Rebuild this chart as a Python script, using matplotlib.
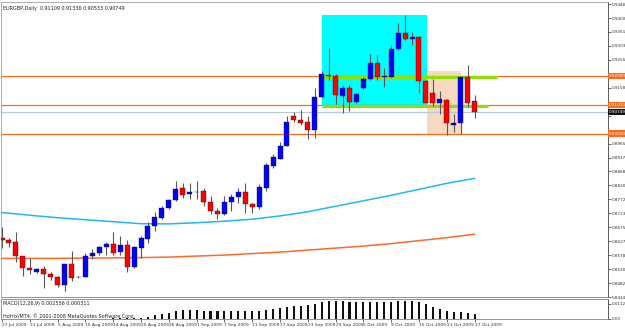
import matplotlib
matplotlib.use('Agg')
import matplotlib.pyplot as plt
from matplotlib.patches import Rectangle
import matplotlib.transforms as mtransforms

plt.rcParams['font.family'] = ['Liberation Sans Narrow', 'DejaVu Sans']

SYMBOL_LABEL = 'EURGBP,Daily  0.91109 0.91336 0.90533 0.90749'
MACD_LABEL = 'MACD(12,26,9) 0.002556 0.000311'
COPYRIGHT = 'Hofrix/MT4, \u00a9 2001-2008 MetaQuotes Software Corp.'

# daily candles, bar 0 = 27 Jul 2009 ... bar 68 = 27 Oct 2009
opens = [0.86367, 0.86298, 0.86229, 0.85757, 0.85343, 0.85205, 0.85308, 0.85136, 0.85032, 0.84756,
         0.85481, 0.85032, 0.85032, 0.85757, 0.85860, 0.86067, 0.86171, 0.85895, 0.86136, 0.85377,
         0.86033, 0.86343, 0.86792, 0.87092, 0.87413, 0.87699, 0.88127, 0.87920, 0.87989, 0.88009,
         0.87630, 0.87319, 0.87206, 0.87644, 0.87802, 0.87975, 0.87575, 0.87471, 0.88127, 0.88872,
         0.89127, 0.89562, 0.90597, 0.90483, 0.90404, 0.90138, 0.91266, 0.92036, 0.92001, 0.91311,
         0.91587, 0.91104, 0.91587, 0.91898, 0.92450, 0.91967, 0.91967, 0.92933, 0.93485, 0.93278,
         0.93347, 0.91829, 0.91415, 0.91070, 0.91173, 0.90311, 0.90380, 0.91967, 0.91109]
highs = [0.86757, 0.86378, 0.86585, 0.85770, 0.85688, 0.85343, 0.85412, 0.85205, 0.85067, 0.85490,
         0.85929, 0.85060, 0.85860, 0.85998, 0.86102, 0.86240, 0.86585, 0.86447, 0.86309, 0.86102,
         0.86447, 0.86930, 0.87275, 0.87492, 0.87723, 0.88354, 0.88299, 0.88299, 0.88354, 0.88127,
         0.87837, 0.87437, 0.87827, 0.87896, 0.88103, 0.88299, 0.87609, 0.88241, 0.88965, 0.89276,
         0.89690, 0.90621, 0.90735, 0.90804, 0.90621, 0.91577, 0.92149, 0.92957, 0.92070, 0.91691,
         0.91691, 0.91415, 0.91967, 0.92760, 0.92726, 0.92277, 0.93071, 0.93830, 0.94106, 0.93519,
         0.93381, 0.91863, 0.91898, 0.91484, 0.91190, 0.90690, 0.91990, 0.92381, 0.91336]
lows = [0.86033, 0.86067, 0.85550, 0.85067, 0.85136, 0.85170, 0.84653, 0.84929, 0.84687, 0.84549,
        0.84894, 0.85000, 0.85020, 0.85653, 0.85801, 0.85791, 0.85791, 0.85791, 0.85205, 0.85343,
        0.85688, 0.86205, 0.86619, 0.87033, 0.87378, 0.87664, 0.87782, 0.87747, 0.87723, 0.87492,
        0.87206, 0.87057, 0.87171, 0.87319, 0.87609, 0.87240, 0.87240, 0.87378, 0.87999, 0.88793,
        0.89103, 0.89552, 0.90404, 0.90311, 0.89817, 0.89852, 0.91232, 0.91863, 0.91035, 0.90725,
        0.90794, 0.91070, 0.91553, 0.91863, 0.91863, 0.91622, 0.91950, 0.92898, 0.93243, 0.93071,
        0.91415, 0.91058, 0.90966, 0.90690, 0.89966, 0.90069, 0.90000, 0.90932, 0.90533]
closes = [0.86298, 0.86215, 0.85767, 0.85343, 0.85274, 0.85308, 0.85136, 0.85032, 0.84756, 0.85481,
          0.84998, 0.85020, 0.85757, 0.85860, 0.86067, 0.86171, 0.85860, 0.86136, 0.85377, 0.86067,
          0.86378, 0.86792, 0.87102, 0.87437, 0.87689, 0.88092, 0.87871, 0.87989, 0.87980, 0.87630,
          0.87319, 0.87206, 0.87644, 0.87802, 0.87975, 0.87551, 0.87471, 0.88147, 0.88906, 0.89182,
          0.89562, 0.90390, 0.90483, 0.90369, 0.90114, 0.91266, 0.92060, 0.91977, 0.91346, 0.91587,
          0.91104, 0.91380, 0.91898, 0.92450, 0.91967, 0.92001, 0.92933, 0.93485, 0.93278, 0.93347,
          0.91829, 0.91070, 0.91070, 0.91208, 0.90380, 0.90380, 0.91967, 0.91070, 0.90749]

# moving averages read every 4th bar
ma_bars = [0, 4, 8, 12, 16, 20, 24, 28, 32, 36, 40, 44, 48, 52, 56, 60, 64, 68]
ma_fast = [0.87264, 0.87171, 0.87085, 0.87016, 0.86947, 0.86878, 0.86871, 0.86912, 0.86964,
           0.87033, 0.87147, 0.87292, 0.87482, 0.87671, 0.87861, 0.88068, 0.88275, 0.88448]
ma_slow = [0.85677, 0.85677, 0.85677, 0.85688, 0.85694, 0.85705, 0.85722, 0.85757, 0.85791,
           0.85843, 0.85895, 0.85964, 0.86033, 0.86102, 0.86188, 0.86291, 0.86395, 0.86516]

macd = [0, 0, 0, 0, 0, 0, 0, 0, 0, 0, 0, 0, 0, 0, 0, 0,
        0.0002, 0.0002, 0.0003, 0.0004, 0.0006, 0.0010, 0.0020, 0.0028, 0.0036, 0.0046,
        0.0050, 0.0050, 0.0050, 0.0048, 0.0046, 0.0046, 0.0046, 0.0046, 0.0046, 0.0048,
        0.0046, 0.0048, 0.0052, 0.0058, 0.0066, 0.0072, 0.0078, 0.0078, 0.0082, 0.0088,
        0.0100, 0.0106, 0.0106, 0.0104, 0.0102, 0.0098, 0.0098, 0.0100, 0.0100, 0.0100,
        0.0102, 0.0104, 0.0106, 0.0104, 0.0098, 0.0086, 0.0072, 0.0058, 0.0048, 0.0038,
        0.0038, 0.0032, 0.00256]

date_labels = ['27 Jul 2009', '31 Jul 2009', '5 Aug 2009', '10 Aug 2009', '14 Aug 2009',
               '20 Aug 2009', '26 Aug 2009', '1 Sep 2009', '7 Sep 2009', '11 Sep 2009',
               '17 Sep 2009', '23 Sep 2009', '29 Sep 2009', '5 Oct 2009', '9 Oct 2009',
               '15 Oct 2009', '21 Oct 2009', '27 Oct 2009']

price_ticks = [0.84340, 0.84823, 0.85306, 0.85789, 0.86272, 0.86755, 0.87238, 0.87721,
               0.88204, 0.88687, 0.89170, 0.89653, 0.90136, 0.90619, 0.91102, 0.91585,
               0.92068, 0.92551, 0.93034, 0.93517, 0.94000, 0.94483]
# these sit under the price boxes on the axis
hidden_ticks = [0.90136, 0.90619, 0.91102, 0.92068]

levels = [0.92000, 0.91000, 0.90000]
last_price = 0.90749
green_levels = [0.91956, 0.90942]
green_ends = [71.2, 69.9]
box_range = (46.0, 61.1, 0.90942, 0.94106)
pull_range = (61.1, 66.1, 0.89966, 0.92174)

FS = 3.5
AX_FS = 3.0
TXT = '#303030'

fig = plt.figure(figsize=(6.25, 3.3), dpi=100)
fig.patch.set_facecolor('white')
ax = fig.add_axes([1 / 625, 33 / 330, 607 / 625, 295 / 330])
mx = fig.add_axes([1 / 625, 11.3 / 330, 607 / 625, 20.2 / 330])

xlim = (-0.15, 87.2)
ax.set_xlim(*xlim)
ax.set_ylim(0.84377, 0.94554)

# zones
ax.add_patch(Rectangle((box_range[0], box_range[2]), box_range[1] - box_range[0],
                       box_range[3] - box_range[2], color='#00FFFF', lw=0, zorder=0))
ax.add_patch(Rectangle((pull_range[0], pull_range[2]), pull_range[1] - pull_range[0],
                       pull_range[3] - pull_range[2], color='#F7D9BF', lw=0, zorder=0))

for lv in levels:
    ax.axhline(lv, color='#FF6A1A', lw=0.9, zorder=1)
ax.axhline(last_price, color='#B8C8DC', lw=0.9, zorder=1)
for lv, end in zip(green_levels, green_ends):
    ax.hlines(lv, box_range[0], end, color='#8EE000', lw=2.2, zorder=1.5)

ax.plot(ma_bars, ma_fast, color='#22B8F0', lw=1.1, zorder=2)
ax.plot(ma_bars, ma_slow, color='#FF6A2A', lw=1.1, zorder=2)

idx = list(range(len(opens)))
ax.vlines(idx, lows, highs, color='#585858', lw=0.8, zorder=3)
for i in idx:
    o, c = opens[i], closes[i]
    col = '#0000FF' if c >= o else '#FF0000'
    h = max(abs(c - o), 0.00006)
    ax.bar(i, h, bottom=min(o, c), width=0.72, color=col, edgecolor='#202020',
           lw=0.3, zorder=4)

ax.yaxis.tick_right()
ax.set_yticks(price_ticks)
ax.set_yticklabels(['' if t in hidden_ticks else '%.5f' % t for t in price_ticks])
ax.tick_params(axis='y', labelsize=AX_FS, length=2, width=0.5, colors=TXT, pad=0.8)
ax.set_xticks([])
for s in ['top', 'left']:
    ax.spines[s].set_color('#A0A0A0')
ax.spines['right'].set_color('#404040')
ax.spines['bottom'].set_color('#808080')
for s in ax.spines.values():
    s.set_linewidth(0.6)

# price boxes on the axis
trans = mtransforms.blended_transform_factory(ax.transAxes, ax.transData)
for lv in levels:
    ax.text(1.002, lv, '%.5f' % lv, transform=trans, fontsize=AX_FS, color='white',
            va='center', ha='left', zorder=6, clip_on=False,
            bbox=dict(boxstyle='square,pad=0.25', fc='#FF6A1A', ec='none'))
ax.text(1.002, last_price, '%.5f' % last_price, transform=trans, fontsize=AX_FS,
        color='white', va='center', ha='left', zorder=6, clip_on=False,
        bbox=dict(boxstyle='square,pad=0.25', fc='#111111', ec='none'))

ax.text(0.004, 0.988, SYMBOL_LABEL, transform=ax.transAxes, fontsize=FS,
        color='#202020', va='top', ha='left')

# MACD panel
mx.set_xlim(*xlim)
mx.set_ylim(0, 0.0121)
mx.bar(idx, macd, width=0.3, color='#101010', zorder=2)
mx.yaxis.tick_right()
mx.set_yticks([0.0, 0.009])
mx.set_yticklabels(['0.00', '0.011215'])
mx.tick_params(axis='y', labelsize=AX_FS, length=2, width=0.5, colors=TXT, pad=0.8)
mx.set_xticks(ma_bars)
mx.set_xticklabels(date_labels, ha='left', fontsize=3.2)
mx.tick_params(axis='x', length=2, width=0.5, colors=TXT, pad=1.2)
for s in mx.spines.values():
    s.set_linewidth(0.6)
    s.set_color('#808080')
mx.spines['right'].set_color('#404040')
mx.text(0.004, 0.88, MACD_LABEL, transform=mx.transAxes, fontsize=FS,
        color='#202020', va='top', ha='left')
mx.text(0.004, 0.0, COPYRIGHT, transform=mx.transAxes, fontsize=FS,
        color='#202020', va='bottom', ha='left')

fig.savefig('out.png', dpi=100, facecolor='white')
